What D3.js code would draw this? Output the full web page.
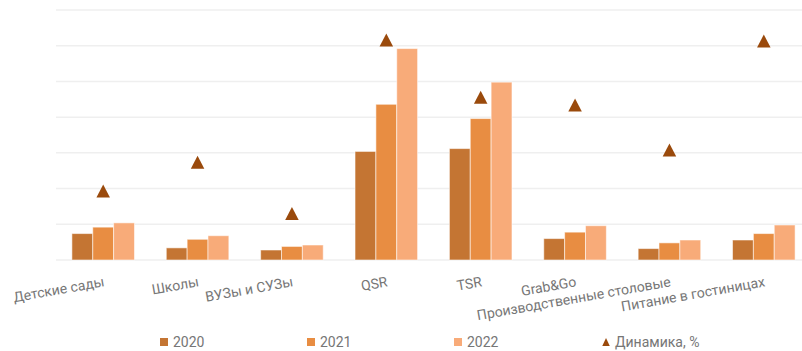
<!DOCTYPE html>
<html>
<head>
<meta charset="utf-8">
<script src="https://cdn.jsdelivr.net/npm/d3@7"></script>
<style>
  html, body { margin: 0; padding: 0; background: #fff; }
  svg { display: block; font-family: Roboto, "Noto Sans", sans-serif; }
</style>
</head>
<body>
<svg id="chart" width="802" height="351"></svg>
<script>
const categories = ['Детские сады', 'Школы', 'ВУЗы и СУЗы', 'QSR', 'TSR', 'Grab&Go', 'Производственные столовые', 'Питание в гостиницах'];
const years = ['2020', '2021', '2022'];
const values2020 = [37, 17, 14, 152, 156, 30, 16, 28];
const values2021 = [46, 29, 19, 218, 198, 39, 24, 37];
const values2022 = [52, 34, 21, 296, 249, 48, 28, 49];
const dynamics = [19.3, 27.4, 13, 61.6, 45.6, 43.4, 30.8, 61.3];  // Динамика, %
const colors = ['#c47533', '#e88d42', '#f8ab79'];
const triColor = '#9a4a0c';

const svg = d3.select('#chart');
const width = 802;
const margin = { top: 10, left: 56, bottom: 91 };
const plotBottom = 351 - margin.bottom;

const x = d3.scaleBand(categories, [margin.left, 811]).paddingInner(0.337).paddingOuter(0.1685);
const xs = d3.scaleBand(years, [0, x.bandwidth()]);
const y = d3.scaleLinear([0, 350], [plotBottom, margin.top]);
const y2 = d3.scaleLinear([0, 70], [plotBottom, margin.top]);

// grid
svg.append('g')
  .selectAll('line')
  .data(y.ticks(7))
  .join('line')
    .attr('x1', margin.left)
    .attr('x2', width)
    .attr('y1', d => y(d))
    .attr('y2', d => y(d))
    .attr('stroke', '#efefef')
    .attr('stroke-width', 1.5);

// bars
const series = [values2020, values2021, values2022];
const rows = [];
categories.forEach((c, i) => {
  years.forEach((yr, j) => rows.push({ cat: c, year: yr, value: series[j][i], j }));
});

svg.append('g')
  .selectAll('rect')
  .data(rows)
  .join('rect')
    .attr('x', d => x(d.cat) + xs(d.year))
    .attr('y', d => y(d.value))
    .attr('width', xs.bandwidth())
    .attr('height', d => plotBottom - y(d.value))
    .attr('fill', d => colors[d.j])
    .attr('stroke', 'rgba(255,255,255,0.55)')
    .attr('stroke-width', 1);

// triangles
const tri = (w, h) => `M0,${-h / 2}L${w / 2},${h / 2}L${-w / 2},${h / 2}Z`;
svg.append('g')
  .selectAll('path')
  .data(dynamics)
  .join('path')
    .attr('transform', (d, i) => `translate(${x(categories[i]) + x.bandwidth() / 2},${y2(d)})`)
    .attr('d', tri(13.5, 13))
    .attr('fill', triColor);

// category labels
svg.append('g')
  .selectAll('text')
  .data(categories)
  .join('text')
    .attr('transform', d => `translate(${x(d) + x.bandwidth() / 2},${276}) rotate(-10)`)
    .attr('dy', '0.74em')
    .attr('text-anchor', 'end')
    .attr('font-size', 14)
    .attr('fill', '#767676')
    .text(d => d);

// legend
const legendItems = [
  { label: '2020', x: 160, type: 'rect', color: colors[0] },
  { label: '2021', x: 307, type: 'rect', color: colors[1] },
  { label: '2022', x: 454, type: 'rect', color: colors[2] },
  { label: 'Динамика, %', x: 602, type: 'tri', color: triColor }
];
const lg = svg.append('g')
  .selectAll('g')
  .data(legendItems)
  .join('g')
    .attr('transform', d => `translate(${d.x},338)`);

lg.filter(d => d.type === 'rect').append('rect')
  .attr('width', 8).attr('height', 8)
  .attr('fill', d => d.color);
lg.filter(d => d.type === 'tri').append('path')
  .attr('transform', 'translate(4,4)')
  .attr('d', tri(7.5, 8))
  .attr('fill', d => d.color);
lg.append('text')
  .attr('x', 13)
  .attr('y', 9)
  .attr('font-size', 14)
  .attr('fill', '#767676')
  .text(d => d.label);
</script>
</body>
</html>
